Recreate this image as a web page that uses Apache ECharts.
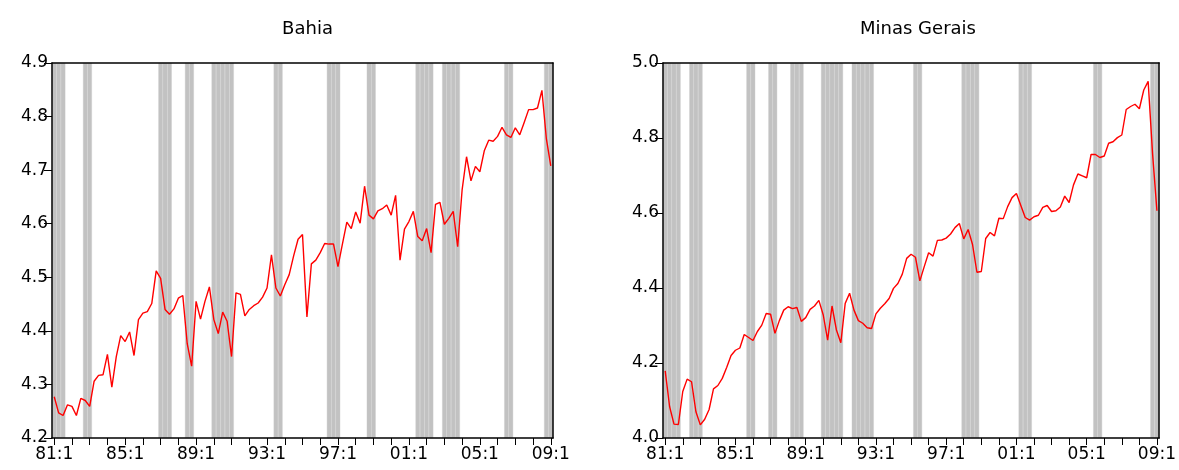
<!DOCTYPE html>
<html>
<head>
<meta charset="utf-8">
<script src="https://cdn.jsdelivr.net/npm/echarts@6/dist/echarts.min.js"></script>
<style>
html,body{margin:0;padding:0;background:#fff;}
#main{width:1179px;height:470px;}
</style>
</head>
<body>
<div id="main"></div>
<script>
// Quarterly categories 1981:1 .. 2009:1
const quarters = [];
for (let y = 1981; y <= 2009; y++) {
  for (let q = 1; q <= 4; q++) {
    if (y === 2009 && q > 1) break;
    quarters.push(String(y % 100).padStart(2, '0') + ':' + q);
  }
}

const titles = ['Bahia', 'Minas Gerais'];

const bahia = [
  4.277, 4.247, 4.242, 4.262, 4.259, 4.242, 4.274, 4.270, 4.259, 4.306, 4.317, 4.318, 4.356, 4.295,
  4.352, 4.391, 4.380, 4.398, 4.354, 4.421, 4.433, 4.436, 4.451, 4.512, 4.498, 4.440, 4.431, 4.441,
  4.461, 4.466, 4.376, 4.334, 4.455, 4.422, 4.455, 4.482, 4.421, 4.395, 4.435, 4.418, 4.352, 4.471,
  4.468, 4.428, 4.440, 4.447, 4.452, 4.463, 4.480, 4.542, 4.480, 4.465, 4.486, 4.505, 4.540, 4.571,
  4.580, 4.426, 4.525, 4.532, 4.546, 4.563, 4.562, 4.562, 4.520, 4.562, 4.603, 4.591, 4.622, 4.601,
  4.670, 4.616, 4.609, 4.624, 4.628, 4.635, 4.616, 4.653, 4.532, 4.590, 4.604, 4.623, 4.576, 4.568,
  4.591, 4.546, 4.636, 4.640, 4.599, 4.610, 4.623, 4.557, 4.663, 4.725, 4.680, 4.707, 4.697, 4.736,
  4.756, 4.754, 4.763, 4.780, 4.766, 4.761, 4.779, 4.766, 4.789, 4.813, 4.813, 4.816, 4.849, 4.759,
  4.708
];

const minas = [
  4.179, 4.084, 4.037, 4.036, 4.124, 4.157, 4.150, 4.070, 4.035, 4.050, 4.076, 4.131, 4.140, 4.159,
  4.188, 4.220, 4.234, 4.240, 4.276, 4.268, 4.260, 4.284, 4.301, 4.332, 4.330, 4.279, 4.313, 4.341,
  4.350, 4.345, 4.348, 4.311, 4.321, 4.343, 4.352, 4.367, 4.328, 4.261, 4.352, 4.288, 4.254, 4.359,
  4.386, 4.341, 4.313, 4.306, 4.294, 4.292, 4.331, 4.346, 4.358, 4.372, 4.399, 4.412, 4.437, 4.479,
  4.490, 4.482, 4.419, 4.457, 4.494, 4.485, 4.527, 4.528, 4.533, 4.544, 4.561, 4.572, 4.531, 4.556,
  4.516, 4.442, 4.444, 4.532, 4.548, 4.539, 4.586, 4.585, 4.617, 4.641, 4.652, 4.620, 4.588, 4.581,
  4.590, 4.594, 4.615, 4.620, 4.604, 4.606, 4.616, 4.645, 4.628, 4.675, 4.704, 4.699, 4.694, 4.756,
  4.756, 4.748, 4.752, 4.786, 4.790, 4.801, 4.808, 4.876, 4.884, 4.890, 4.878, 4.928, 4.951, 4.759,
  4.606
];

// Shaded periods (first and last quarter of each)
const shadeBahia = [
  ['81:1','81:3'], ['82:4','83:1'], ['87:1','87:3'], ['88:3','88:4'], ['90:1','91:1'],
  ['93:3','93:4'], ['96:3','97:1'], ['98:4','99:1'], ['01:3','02:2'], ['03:1','03:4'],
  ['06:3','06:4'], ['08:4','09:1']
];
const shadeMinas = [
  ['81:1','81:4'], ['82:3','83:1'], ['85:4','86:1'], ['87:1','87:2'], ['88:2','88:4'],
  ['90:1','91:1'], ['91:4','92:4'], ['95:2','95:3'], ['98:1','98:4'], ['01:2','01:4'],
  ['05:3','05:4'], ['08:4','09:1']
];

const yTicksBahia = {min: 4.2, max: 4.9, interval: 0.1};
const yTicksMinas = {min: 4.0, max: 5.0, interval: 0.2};

function flags(periods) {
  const arr = quarters.map(() => '-');
  periods.forEach(([a, b]) => {
    const i0 = quarters.indexOf(a), i1 = quarters.indexOf(b);
    for (let i = i0; i <= i1; i++) arr[i] = 1;
  });
  return arr;
}

const FONT = 'DejaVu Sans';
const grids = [
  {left: 52, right: 626, top: 63, bottom: 32},
  {left: 663, right: 16, top: 63, bottom: 32}
];

const xAxes = [], yAxes = [], series = [];
[[bahia, shadeBahia, yTicksBahia], [minas, shadeMinas, yTicksMinas]].forEach(([vals, shade, yt], g) => {
  xAxes.push({
    gridIndex: g, type: 'category', data: quarters, position: 'bottom', boundaryGap: true, z: 10,
    axisLine: {show: true, lineStyle: {color: '#000', width: 1.5}},
    axisTick: {show: true, interval: 3, alignWithLabel: true, length: 7, lineStyle: {color: '#000', width: 1}},
    axisLabel: {interval: 15, color: '#000', fontFamily: FONT, fontSize: 17, margin: 8},
    splitLine: {show: false}
  });
  xAxes.push({
    gridIndex: g, type: 'category', data: quarters, position: 'top', boundaryGap: true, z: 10,
    axisLine: {show: true, lineStyle: {color: '#000', width: 1.5}},
    axisTick: {show: false}, axisLabel: {show: false}, splitLine: {show: false}
  });
  yAxes.push({
    gridIndex: g, type: 'value', min: yt.min, max: yt.max, interval: yt.interval, position: 'left', z: 10,
    axisLine: {show: true, lineStyle: {color: '#000', width: 1.5}},
    axisTick: {show: true, inside: false, length: 8, lineStyle: {color: '#000', width: 1}},
    axisLabel: {color: '#000', fontFamily: FONT, fontSize: 17, margin: 4, formatter: v => v.toFixed(1)},
    splitLine: {show: false}
  });
  yAxes.push({
    gridIndex: g, type: 'value', min: 0, max: 1, position: 'right', z: 10,
    axisLine: {show: true, lineStyle: {color: '#000', width: 1.5}},
    axisTick: {show: false}, axisLabel: {show: false}, splitLine: {show: false}
  });
  series.push({
    type: 'bar', xAxisIndex: g * 2, yAxisIndex: g * 2 + 1, data: flags(shade),
    barWidth: '100%', barCategoryGap: '0%', silent: true, z: 1,
    itemStyle: {color: '#c2c2c2', borderColor: '#cbcbcb', borderWidth: 0.4},
    animation: false
  });
  series.push({
    type: 'line', xAxisIndex: g * 2, yAxisIndex: g * 2, data: vals, symbol: 'none', z: 5,
    lineStyle: {color: '#ff0000', width: 1.4}, animation: false
  });
});

const chart = echarts.init(document.getElementById('main'), null, {renderer: 'canvas'});
chart.setOption({
  animation: false,
  backgroundColor: '#fff',
  title: [
    {text: titles[0], left: 302.5, top: 15, textAlign: 'center',
     textStyle: {fontFamily: FONT, fontSize: 18, fontWeight: 'normal', color: '#000'}},
    {text: titles[1], left: 913, top: 15, textAlign: 'center',
     textStyle: {fontFamily: FONT, fontSize: 18, fontWeight: 'normal', color: '#000'}}
  ],
  grid: grids,
  xAxis: xAxes,
  yAxis: yAxes,
  series: series
});
</script>
</body>
</html>
